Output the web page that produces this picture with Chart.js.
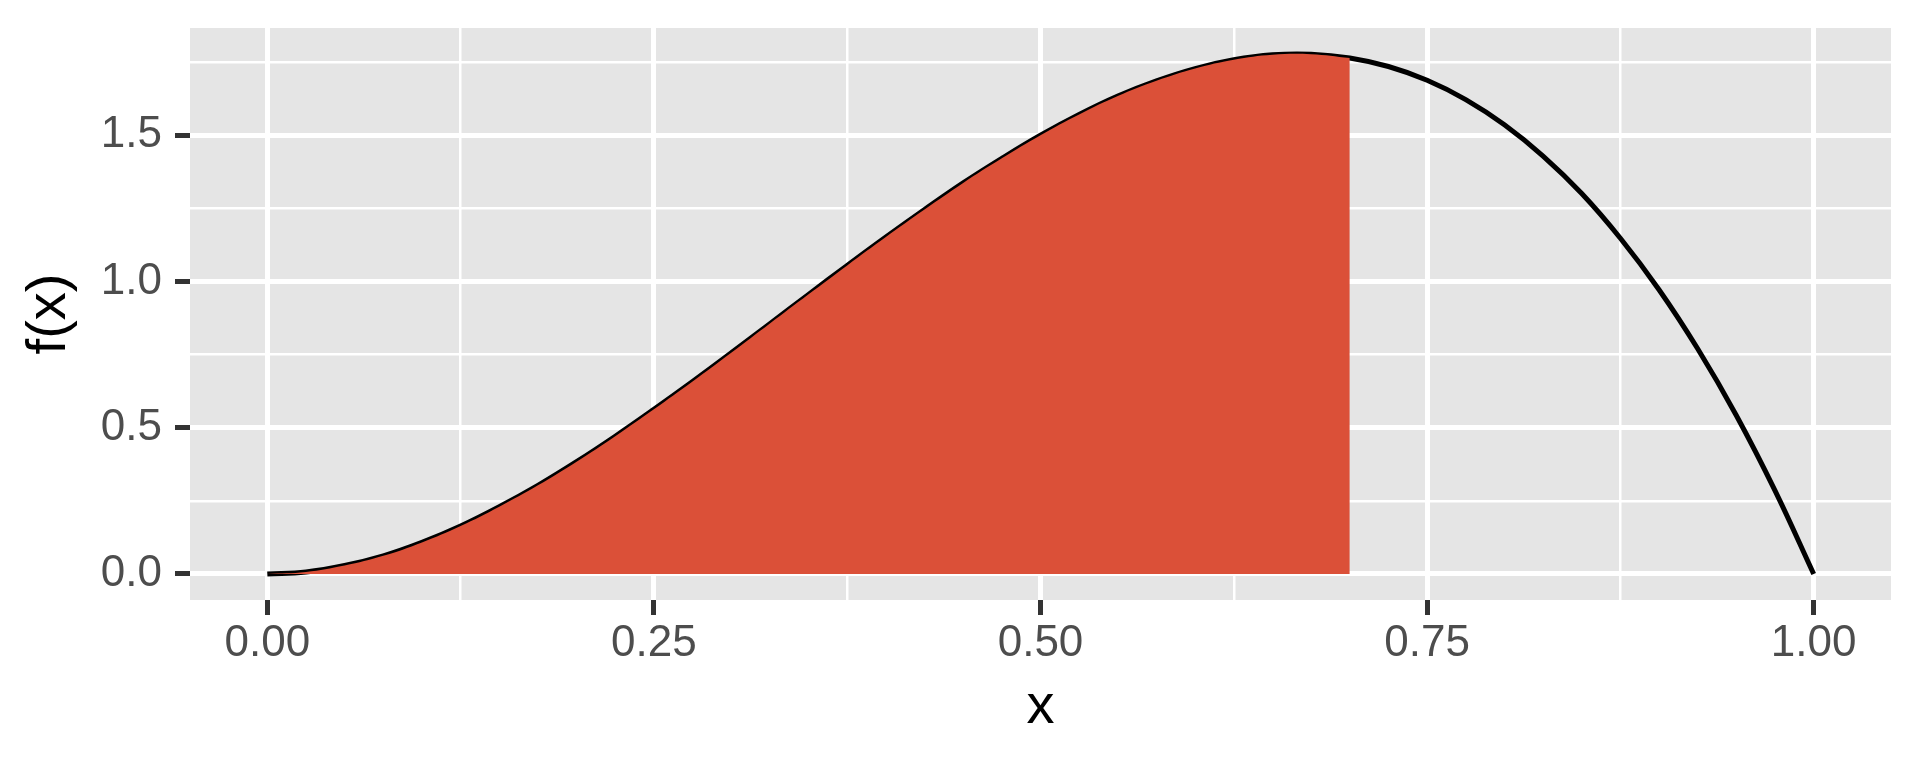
<!DOCTYPE html>
<html>
<head>
<meta charset="utf-8">
<script src="https://cdn.jsdelivr.net/npm/chart.js@4"></script>
<style>
  body { margin: 0; background: #ffffff; }
</style>
</head>
<body>
<canvas id="chart" width="1920" height="768"></canvas>
<script>
// density curve, x from 0 to 1
const curveX = [0, 0.025, 0.05, 0.075, 0.1, 0.125, 0.15, 0.175, 0.2, 0.225, 0.25,
  0.275, 0.3, 0.325, 0.35, 0.375, 0.4, 0.425, 0.45, 0.475, 0.5,
  0.525, 0.55, 0.575, 0.6, 0.625, 0.65, 0.675, 0.7, 0.725, 0.75,
  0.775, 0.8, 0.825, 0.85, 0.875, 0.9, 0.925, 0.95, 0.975, 1];
const curveY = [0, 0.007, 0.029, 0.062, 0.108, 0.164, 0.23, 0.303, 0.384, 0.471, 0.563,
  0.658, 0.756, 0.856, 0.956, 1.055, 1.152, 1.246, 1.337, 1.421, 1.5,
  1.571, 1.634, 1.686, 1.728, 1.758, 1.775, 1.777, 1.764, 1.735, 1.688,
  1.622, 1.536, 1.429, 1.301, 1.148, 0.972, 0.77, 0.542, 0.285, 0];

// shaded region ends here
const shadeEnd = 0.7;

// tick positions and labels
const xMajor = [0, 0.25, 0.5, 0.75, 1];
const xMinor = [0.125, 0.375, 0.625, 0.875];
const yMajor = [0, 0.5, 1, 1.5];
const yMinor = [0.25, 0.75, 1.25, 1.75];

const xMin = -0.05, xMax = 1.05;
const yMin = -0.0889, yMax = 1.8667;

const curvePts = curveX.map((x, i) => ({ x: x, y: curveY[i] }));
const areaPts = curvePts.filter((p) => p.x <= shadeEnd + 1e-9);

const isMajor = (list, v) => list.some((m) => Math.abs(m - v) < 1e-9);

const panelBg = {
  id: "panelBg",
  beforeDraw(chart) {
    const { ctx, chartArea } = chart;
    ctx.save();
    ctx.fillStyle = "#E5E5E5";
    ctx.fillRect(chartArea.left, chartArea.top, chartArea.right - chartArea.left, chartArea.bottom - chartArea.top);
    ctx.restore();
  },
};

const tickFont = { family: "'Liberation Sans', Arial, sans-serif", size: 44 };
const titleFont = { family: "'Liberation Sans', Arial, sans-serif", size: 56 };

const ctx = document.getElementById("chart").getContext("2d");
new Chart(ctx, {
  type: "line",
  data: {
    datasets: [
      {
        label: "area",
        data: areaPts,
        borderWidth: 0,
        backgroundColor: "rgb(219, 80, 56)",
        fill: "origin",
        pointRadius: 0,
        tension: 0.4,
        order: 0,
      },
      {
        label: "curve",
        data: curvePts,
        borderColor: "#000000",
        borderWidth: 5,
        fill: false,
        pointRadius: 0,
        tension: 0.4,
        order: 1,
      },
    ],
  },
  options: {
    responsive: false,
    animation: false,
    layout: { padding: { top: 28, right: 29, left: 0, bottom: 0 } },
    plugins: { legend: { display: false }, tooltip: { enabled: false } },
    scales: {
      x: {
        type: "linear",
        min: xMin,
        max: xMax,
        afterBuildTicks: (scale) => {
          scale.ticks = [...xMajor, ...xMinor].sort((a, b) => a - b).map((v) => ({ value: v }));
        },
        afterFit: (scale) => {
          scale.height = 168;
          scale.paddingLeft = 0;
          scale.paddingRight = 0;
        },
        border: { display: false },
        grid: {
          color: "#ffffff",
          lineWidth: (c) => (c.tick && isMajor(xMajor, c.tick.value) ? 5 : 2.5),
          tickLength: 15,
          tickWidth: 5,
          tickColor: (c) => (c.tick && isMajor(xMajor, c.tick.value) ? "#333333" : "rgba(0,0,0,0)"),
        },
        ticks: {
          autoSkip: false,
          maxRotation: 0,
          padding: 2,
          color: "#4D4D4D",
          font: tickFont,
          callback: (v) => (isMajor(xMajor, v) ? v.toFixed(2) : ""),
        },
        title: {
          display: true,
          text: "x",
          color: "#000000",
          font: titleFont,
          padding: { top: 0, bottom: 27 },
        },
      },
      y: {
        type: "linear",
        min: yMin,
        max: yMax,
        afterBuildTicks: (scale) => {
          scale.ticks = [...yMajor, ...yMinor].sort((a, b) => a - b).map((v) => ({ value: v }));
        },
        afterFit: (scale) => {
          scale.width = 190;
          scale.paddingTop = 0;
          scale.paddingBottom = 0;
        },
        border: { display: false },
        grid: {
          color: "#ffffff",
          lineWidth: (c) => (c.tick && isMajor(yMajor, c.tick.value) ? 5 : 2.5),
          tickLength: 15,
          tickWidth: 5,
          tickColor: (c) => (c.tick && isMajor(yMajor, c.tick.value) ? "#333333" : "rgba(0,0,0,0)"),
        },
        ticks: {
          autoSkip: false,
          padding: 13,
          color: "#4D4D4D",
          font: tickFont,
          callback: (v) => (isMajor(yMajor, v) ? v.toFixed(1) : ""),
        },
        title: {
          display: true,
          text: "f(x)",
          color: "#000000",
          font: titleFont,
          padding: { top: 16, bottom: 0 },
        },
      },
    },
  },
  plugins: [panelBg],
});
</script>
</body>
</html>
